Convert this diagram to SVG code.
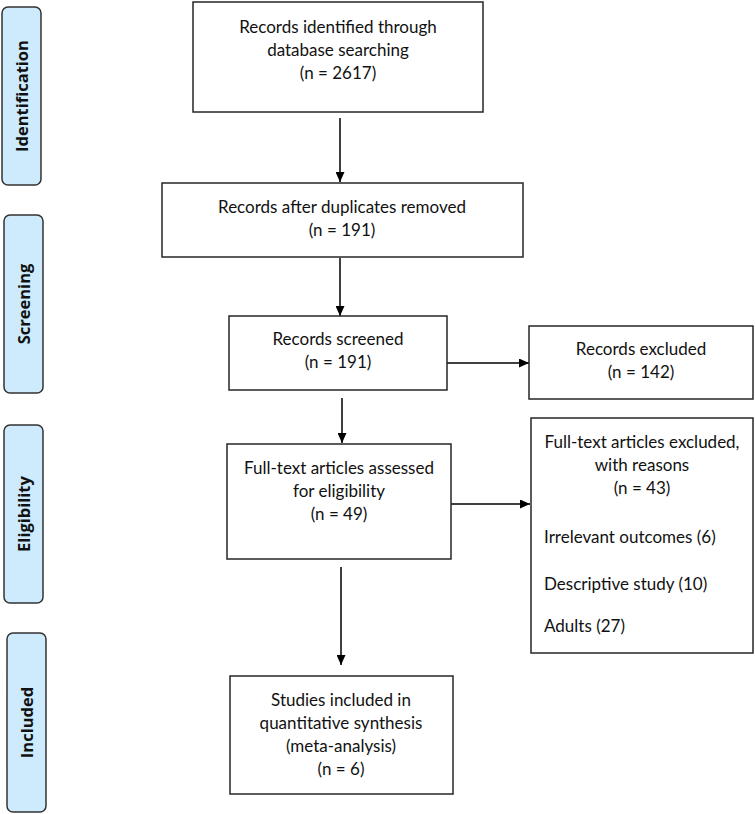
<svg xmlns="http://www.w3.org/2000/svg" width="755" height="814" viewBox="0 0 755 814">
<defs>
<style>
.box{fill:#fff;stroke:#262626;stroke-width:1.5}
.side{fill:#cdebfc;stroke:#333;stroke-width:1.5}
.t{font-family:Lato,"Liberation Sans",sans-serif;font-size:17px;fill:#111;text-anchor:middle}
.l{text-anchor:start}
.s{font-family:"Open Sans","Liberation Sans",sans-serif;font-weight:bold;font-size:16.5px;fill:#111;text-anchor:middle}
.c{stroke:#000;stroke-width:1.5;fill:none;marker-end:url(#ah)}
</style>
<marker id="ah" markerUnits="userSpaceOnUse" markerWidth="10" markerHeight="9" refX="10" refY="4.5" orient="auto">
<path d="M0,0 L10,4.5 L0,9 z" fill="#000"/>
</marker>
</defs>
<rect width="755" height="814" fill="#fff"/>
<g id="lab-identification"><rect class="side" x="2" y="7" width="39" height="178" rx="6"/><text class="s" transform="translate(27.5,96) rotate(-90)">Identification</text></g>
<g id="lab-screening"><rect class="side" x="4" y="215" width="39" height="178" rx="6"/><text class="s" transform="translate(29.5,304) rotate(-90)">Screening</text></g>
<g id="lab-eligibility"><rect class="side" x="4" y="425" width="39" height="178" rx="6"/><text class="s" transform="translate(29.5,514) rotate(-90)">Eligibility</text></g>
<g id="lab-included"><rect class="side" x="7" y="633" width="39" height="179" rx="6"/><text class="s" transform="translate(32.5,722.5) rotate(-90)">Included</text></g>
<g id="connectors">
<line class="c" x1="340" y1="118" x2="340" y2="182"/>
<line class="c" x1="340" y1="258" x2="340" y2="316"/>
<line class="c" x1="447" y1="363" x2="529" y2="363"/>
<line class="c" x1="342" y1="398" x2="342" y2="443"/>
<line class="c" x1="451" y1="504" x2="530" y2="504"/>
<line class="c" x1="341" y1="567" x2="341" y2="665"/>
</g>
<g id="n1"><rect class="box" x="193" y="2" width="290" height="110"/>
<text class="t" x="338" y="33">Records identified through</text>
<text class="t" x="338" y="56">database searching</text>
<text class="t" x="338" y="79">(n = 2617)</text></g>
<g id="n2"><rect class="box" x="162" y="183" width="361" height="74"/>
<text class="t" x="342" y="213">Records after duplicates removed</text>
<text class="t" x="342" y="236">(n = 191)</text></g>
<g id="n3"><rect class="box" x="229" y="316" width="218" height="74"/>
<text class="t" x="338" y="345">Records screened</text>
<text class="t" x="338" y="368">(n = 191)</text></g>
<g id="n4"><rect class="box" x="529" y="326" width="224" height="73"/>
<text class="t" x="641" y="355">Records excluded</text>
<text class="t" x="641" y="378">(n = 142)</text></g>
<g id="n5"><rect class="box" x="227" y="444" width="224" height="115"/>
<text class="t" x="339" y="474">Full-text articles assessed</text>
<text class="t" x="339" y="497">for eligibility</text>
<text class="t" x="339" y="520">(n = 49)</text></g>
<g id="n6"><rect class="box" x="531" y="418" width="222" height="235"/>
<text class="t" x="642" y="448">Full-text articles excluded,</text>
<text class="t" x="642" y="471">with reasons</text>
<text class="t" x="642" y="494">(n = 43)</text>
<text class="t l" x="544" y="543">Irrelevant outcomes (6)</text>
<text class="t l" x="544" y="590">Descriptive study (10)</text>
<text class="t l" x="544" y="632">Adults (27)</text></g>
<g id="n7"><rect class="box" x="230" y="676" width="223" height="118"/>
<text class="t" x="341" y="706">Studies included in</text>
<text class="t" x="341" y="729">quantitative synthesis</text>
<text class="t" x="341" y="752">(meta-analysis)</text>
<text class="t" x="341" y="775">(n = 6)</text></g>
</svg>
